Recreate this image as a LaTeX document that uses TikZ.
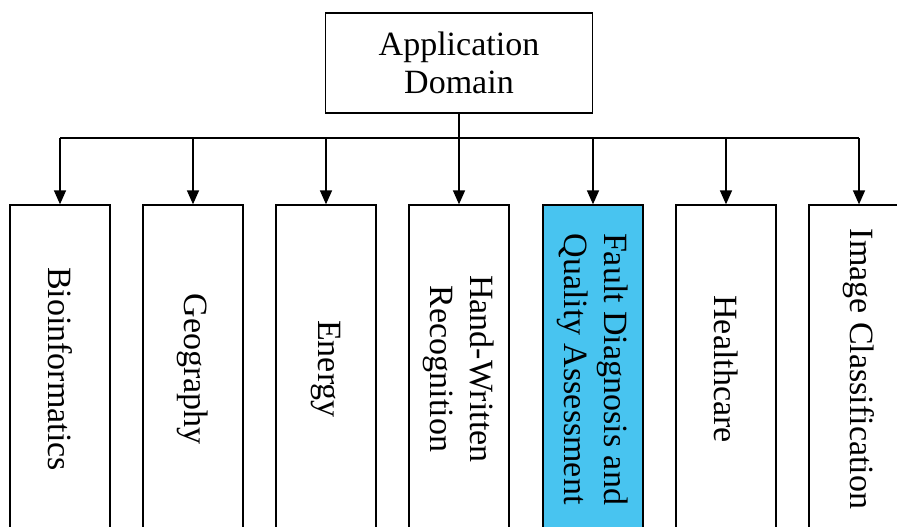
\documentclass[tikz,border=0pt]{standalone}
\usepackage{fontspec}
\setmainfont{Liberation Serif}
\usetikzlibrary{arrows.meta}
\definecolor{hl}{RGB}{72,196,240}
\begin{document}
\begin{tikzpicture}[x=1pt,y=-1pt,
  box/.style={draw=black,line width=1.3pt,fill=white},
  leaf/.style={box,rotate=-90,minimum width=328pt,minimum height=100pt,inner sep=0pt,align=center,font=\fontsize{34}{40}\selectfont},
  arr/.style={line width=1.5pt,-{Triangle[length=14pt,width=12pt]}}]
\useasboundingbox (0,0) rectangle (897,527);
\clip (0,0) rectangle (897,527);
\fill[white] (0,0) rectangle (897,527);
\node[box,minimum width=267pt,minimum height=100pt,inner sep=0pt,align=center,font=\fontsize{34}{38}\selectfont] (top) at (459,63) {Application\\Domain};
\coordinate (bus) at (459,138);
\node[leaf] (b1) at (60,369) {Bioinformatics};
\node[leaf] (b2) at (193,369) {Geography};
\node[leaf] (b3) at (326,369) {Energy};
\node[leaf] (b4) at (459,369) {Hand-Written\\Recognition};
\node[leaf,fill=hl] (b5) at (593,369) {Fault Diagnosis and\\Quality Assessment};
\node[leaf] (b6) at (726,369) {Healthcare};
\node[leaf] (b7) at (859,369) {Image Classification};
\draw[line width=1.5pt] (top.south) -- (top.south |- bus);
\draw[line width=1.5pt] (b1.west |- bus) -- (b7.west |- bus);
\foreach \i in {1,...,7}{
  \draw[arr] (b\i.west |- bus) -- (b\i.west);
}
\end{tikzpicture}
\end{document}
